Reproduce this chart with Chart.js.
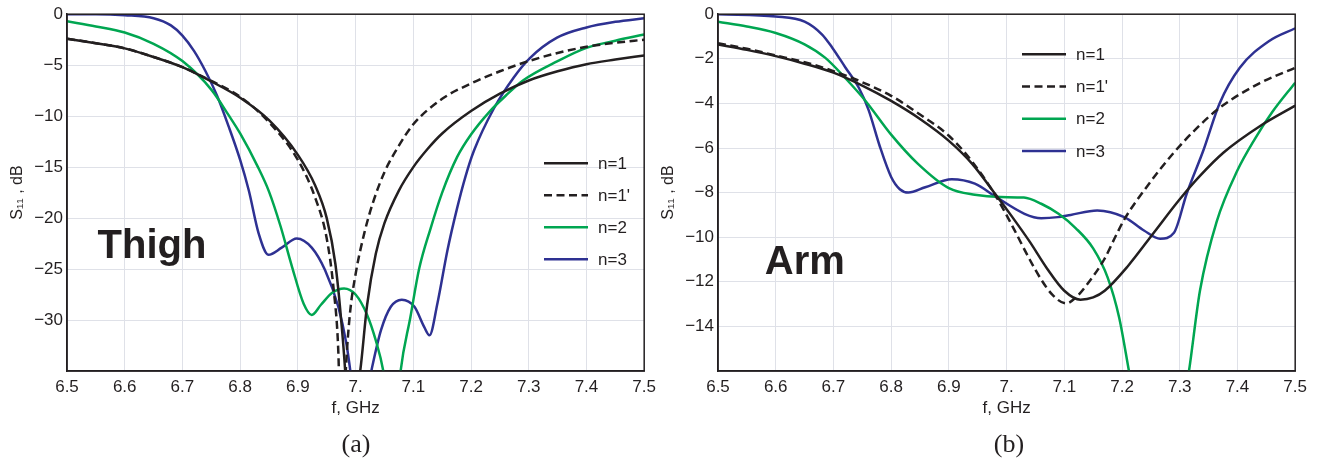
<!DOCTYPE html>
<html>
<head>
<meta charset="utf-8">
<script src="https://cdn.jsdelivr.net/npm/chart.js@4.4.1/dist/chart.umd.min.js"></script>
<style>
  body { margin: 0; background: #fff; width: 1325px; height: 462px; position: relative; overflow: hidden; }
  .box { position: absolute; top: 0; width: 662px; height: 462px; }
  .cap { position: absolute; top: 429px; line-height: 30px; font-family: "Liberation Serif", "Times New Roman", serif;
         font-size: 26px; color: #231f20; transform: translateX(-50%); }
</style>
</head>
<body>
<div class="box" style="left:0"><canvas id="thighChart" width="662" height="462"></canvas></div>
<div class="box" style="left:651px"><canvas id="armChart" width="662" height="462"></canvas></div>
<div class="cap" style="left:356px">(a)</div>
<div class="cap" style="left:1009px">(b)</div>
<script>
// labels / ticks
const seriesLabels = ["n=1", "n=1'", "n=2", "n=3"];
const seriesColors = ["#231f20", "#231f20", "#00a651", "#2e3192"];
const xTickLabels = ["6.5", "6.6", "6.7", "6.8", "6.9", "7.", "7.1", "7.2", "7.3", "7.4", "7.5"];
const thighYLabels = ["", "\u221230", "\u221225", "\u221220", "\u221215", "\u221210", "\u22125", "0"];
const armYLabels = ["", "\u221214", "\u221212", "\u221210", "\u22128", "\u22126", "\u22124", "\u22122", "0"];

// (a) Thigh
const thighF1 = [6.5, 6.55, 6.6, 6.65, 6.7, 6.75, 6.8, 6.85, 6.9, 6.93, 6.95, 6.965, 6.975, 6.983, 6.99, 6.998, 7.008, 7.02, 7.035, 7.05, 7.075, 7.1, 7.125, 7.15, 7.2, 7.25, 7.3, 7.35, 7.4, 7.45, 7.5];
const thighS1 = [-2.4, -2.85, -3.35, -4.2, -5.2, -6.6, -8.2, -10.4, -13.8, -16.8, -20, -24.5, -30, -36, -45, -38, -35, -28.5, -23.5, -20.5, -17.3, -15.0, -13.2, -11.7, -9.5, -7.8, -6.5, -5.6, -4.9, -4.45, -4.05];
const thighF1p = [6.5, 6.55, 6.6, 6.65, 6.7, 6.75, 6.8, 6.85, 6.9, 6.93, 6.95, 6.962, 6.97, 6.976, 6.983, 6.99, 7.0, 7.015, 7.03, 7.05, 7.075, 7.1, 7.15, 7.2, 7.25, 7.3, 7.35, 7.4, 7.45, 7.5];
const thighS1p = [-2.4, -2.85, -3.35, -4.2, -5.2, -6.55, -8.1, -10.6, -14.3, -18, -22, -27, -33, -45, -35, -29.5, -25.5, -21.5, -18.5, -15.5, -12.9, -10.8, -8.3, -6.8, -5.6, -4.6, -3.8, -3.2, -2.8, -2.5];
const thighF2 = [6.5, 6.55, 6.6, 6.65, 6.7, 6.75, 6.78, 6.8, 6.83, 6.85, 6.87, 6.89, 6.91, 6.924, 6.94, 6.96, 6.98, 7.0, 7.02, 7.035, 7.048, 7.06, 7.07, 7.078, 7.095, 7.11, 7.13, 7.15, 7.176, 7.2, 7.233, 7.26, 7.29, 7.35, 7.4, 7.45, 7.5];
const thighS2 = [-0.7, -1.2, -1.8, -2.9, -4.6, -7.4, -9.9, -11.7, -14.9, -17.4, -20.8, -24.8, -28.4, -29.5, -28.5, -27.3, -26.9, -27.5, -29.5, -32, -35, -40, -40, -35, -29.7, -25, -21.0, -17.5, -14.0, -11.8, -9.5, -8.0, -6.5, -4.6, -3.3, -2.6, -2.0];
const thighF3 = [6.5, 6.55, 6.6, 6.65, 6.68, 6.7, 6.72, 6.74, 6.76, 6.78, 6.8, 6.815, 6.832, 6.849, 6.872, 6.898, 6.924, 6.947, 6.97, 6.984, 6.992, 7.005, 7.02, 7.028, 7.044, 7.061, 7.08, 7.102, 7.119, 7.128, 7.142, 7.159, 7.176, 7.19, 7.205, 7.24, 7.274, 7.302, 7.349, 7.4, 7.45, 7.5];
const thighS3 = [0, 0, -0.1, -0.4, -1.1, -2.1, -3.6, -5.6, -8.0, -11.0, -14.3, -17.3, -21.5, -23.6, -22.9, -22.0, -22.9, -25.1, -28.7, -32.3, -35.5, -42, -37, -34.8, -31, -28.7, -28.0, -28.7, -30.7, -31.5, -28.3, -23.2, -19.0, -16, -13.4, -9.2, -6.2, -4.3, -2.3, -1.3, -0.75, -0.4];

// (b) Arm
const armF1 = [6.5, 6.55, 6.6, 6.65, 6.7, 6.75, 6.8, 6.85, 6.9, 6.94, 6.98, 7.01, 7.04, 7.07, 7.1, 7.128, 7.15, 7.17, 7.21, 7.255, 7.3, 7.335, 7.376, 7.44, 7.5];
const armS1 = [-1.36, -1.6, -1.88, -2.22, -2.62, -3.2, -3.89, -4.7, -5.68, -6.7, -8.05, -9.1, -10.2, -11.4, -12.4, -12.8, -12.7, -12.4, -11.3, -9.8, -8.3, -7.25, -6.2, -5.0, -4.1];
const armF1p = [6.5, 6.55, 6.6, 6.65, 6.7, 6.75, 6.8, 6.85, 6.9, 6.94, 6.98, 7.01, 7.04, 7.06, 7.08, 7.103, 7.12, 7.14, 7.169, 7.19, 7.204, 7.244, 7.29, 7.33, 7.369, 7.438, 7.5];
const armS1p = [-1.3, -1.55, -1.85, -2.15, -2.55, -3.05, -3.66, -4.5, -5.45, -6.6, -8.1, -9.5, -11.0, -11.9, -12.6, -12.97, -12.7, -12.1, -11.0, -9.9, -9.2, -7.7, -6.2, -5.1, -4.2, -3.1, -2.4];
const armF2 = [6.5, 6.55, 6.6, 6.65, 6.686, 6.72, 6.756, 6.8, 6.846, 6.9, 6.945, 6.99, 7.03, 7.06, 7.09, 7.12, 7.15, 7.175, 7.195, 7.212, 7.24, 7.265, 7.29, 7.316, 7.335, 7.364, 7.4, 7.43, 7.46, 7.5];
const armS2 = [-0.34, -0.55, -0.84, -1.35, -1.96, -2.85, -3.9, -5.4, -6.7, -7.8, -8.1, -8.2, -8.22, -8.5, -8.95, -9.6, -10.5, -11.8, -13.6, -16.0, -20, -22, -20, -16, -12.4, -9.3, -7.0, -5.6, -4.4, -3.07];
const armF3 = [6.5, 6.6, 6.65, 6.68, 6.698, 6.721, 6.744, 6.761, 6.78, 6.8, 6.815, 6.83, 6.859, 6.905, 6.945, 6.982, 7.031, 7.06, 7.089, 7.111, 7.157, 7.204, 7.238, 7.266, 7.29, 7.312, 7.341, 7.369, 7.404, 7.455, 7.5];
const armS3 = [0, -0.1, -0.33, -0.9, -1.5, -2.4, -3.3, -4.3, -5.9, -7.3, -7.85, -8.0, -7.76, -7.4, -7.6, -8.2, -8.95, -9.15, -9.1, -9.0, -8.8, -9.1, -9.7, -10.07, -9.8, -8.05, -6.1, -4.0, -2.4, -1.2, -0.63];

const textColor = "#231f20";
const sansFont = '"Liberation Sans", Arial, Helvetica, sans-serif';

function zip(xs, ys) {
  return xs.map((x, i) => ({ x: x, y: ys[i] }));
}

// frame round the plot area (MATLAB-like box)
const boxFrame = {
  id: "boxFrame",
  afterDatasetsDraw(chart) {
    const { ctx, chartArea: a } = chart;
    ctx.save();
    ctx.strokeStyle = textColor;
    ctx.lineWidth = 1.5;
    ctx.strokeRect(a.left, a.top, a.right - a.left, a.bottom - a.top);
    ctx.restore();
  },
};

// legend drawn inside the plot area
const insideLegend = {
  id: "insideLegend",
  afterDatasetsDraw(chart, args, opts) {
    const { ctx, chartArea } = chart;
    ctx.save();
    chart.data.datasets.forEach((ds, i) => {
      const x = chartArea.left + opts.left;
      const y = chartArea.top + opts.top + i * opts.rowGap;
      ctx.strokeStyle = ds.borderColor;
      ctx.lineWidth = ds.borderWidth;
      ctx.setLineDash(ds.borderDash || []);
      ctx.beginPath();
      ctx.moveTo(x, y);
      ctx.lineTo(x + 44, y);
      ctx.stroke();
      ctx.setLineDash([]);
      ctx.fillStyle = textColor;
      ctx.font = "17px " + sansFont;
      ctx.textBaseline = "middle";
      ctx.fillText(ds.label, x + 54, y + 1);
    });
    ctx.restore();
  },
};

// big bold label (Thigh / Arm), anchored in data units
const plotLabel = {
  id: "plotLabel",
  afterDatasetsDraw(chart, args, opts) {
    const { ctx, scales } = chart;
    ctx.save();
    ctx.fillStyle = textColor;
    ctx.font = "bold 40px " + sansFont;
    ctx.textBaseline = "alphabetic";
    ctx.fillText(opts.text, scales.x.getPixelForValue(opts.x), scales.y.getPixelForValue(opts.y));
    ctx.restore();
  },
};

function makeChart(canvasId, series, yMin, yStep, yLabels, label, legendPos) {
  const datasets = series.map((s, i) => ({
    label: seriesLabels[i],
    data: zip(s[0], s[1]),
    borderColor: seriesColors[i],
    borderWidth: 2.5,
    borderDash: i === 1 ? [8, 4.5] : [],
    pointRadius: 0,
    cubicInterpolationMode: "monotone",
    fill: false,
  }));

  return new Chart(document.getElementById(canvasId), {
    type: "line",
    data: { datasets: datasets },
    plugins: [boxFrame, insideLegend, plotLabel],
    options: {
      responsive: false,
      animation: false,
      events: [],
      layout: { padding: { left: 0, top: 13, right: 14, bottom: 41 } },
      scales: {
        x: {
          type: "linear",
          min: 6.5,
          max: 7.5,
          ticks: {
            stepSize: 0.1,
            padding: 6,
            color: textColor,
            font: { family: sansFont, size: 17 },
            maxRotation: 0,
            autoSkip: false,
            callback: (v, i) => xTickLabels[i] ?? "",
          },
          grid: { color: "#dfe1e8", lineWidth: 1, drawTicks: false },
          border: { display: true, color: textColor, width: 1.5 },
          title: {
            display: true,
            text: "f, GHz",
            color: textColor,
            font: { family: sansFont, size: 17 },
            padding: { top: 0, bottom: 2 },
          },
          afterFit: (scale) => { scale.height = 50; },
        },
        y: {
          min: yMin,
          max: 0,
          ticks: {
            stepSize: yStep,
            padding: 4,
            color: textColor,
            font: { family: sansFont, size: 17 },
            autoSkip: false,
            callback: (v, i) => yLabels[i] ?? "",
          },
          grid: { color: "#dfe1e8", lineWidth: 1, drawTicks: false },
          border: { display: true, color: textColor, width: 1.5 },
          title: {
            display: true,
            text: "S\u2081\u2081 , dB",
            color: textColor,
            font: { family: sansFont, size: 16 },
            padding: { top: 8, bottom: 0 },
          },
          afterFit: (scale) => { scale.width = 67; },
        },
      },
      plugins: {
        legend: { display: false },
        tooltip: { enabled: false },
        insideLegend: legendPos,
        plotLabel: label,
      },
    },
  });
}

makeChart(
  "thighChart",
  [[thighF1, thighS1], [thighF1p, thighS1p], [thighF2, thighS2], [thighF3, thighS3]],
  -35, 5, thighYLabels,
  { text: "Thigh", x: 6.553, y: -23.95 },
  { left: 477, top: 149, rowGap: 32 }
);

makeChart(
  "armChart",
  [[armF1, armS1], [armF1p, armS1p], [armF2, armS2], [armF3, armS3]],
  -16, 2, armYLabels,
  { text: "Arm", x: 6.581, y: -11.67 },
  { left: 304, top: 40, rowGap: 32.3 }
);
</script>
</body>
</html>
